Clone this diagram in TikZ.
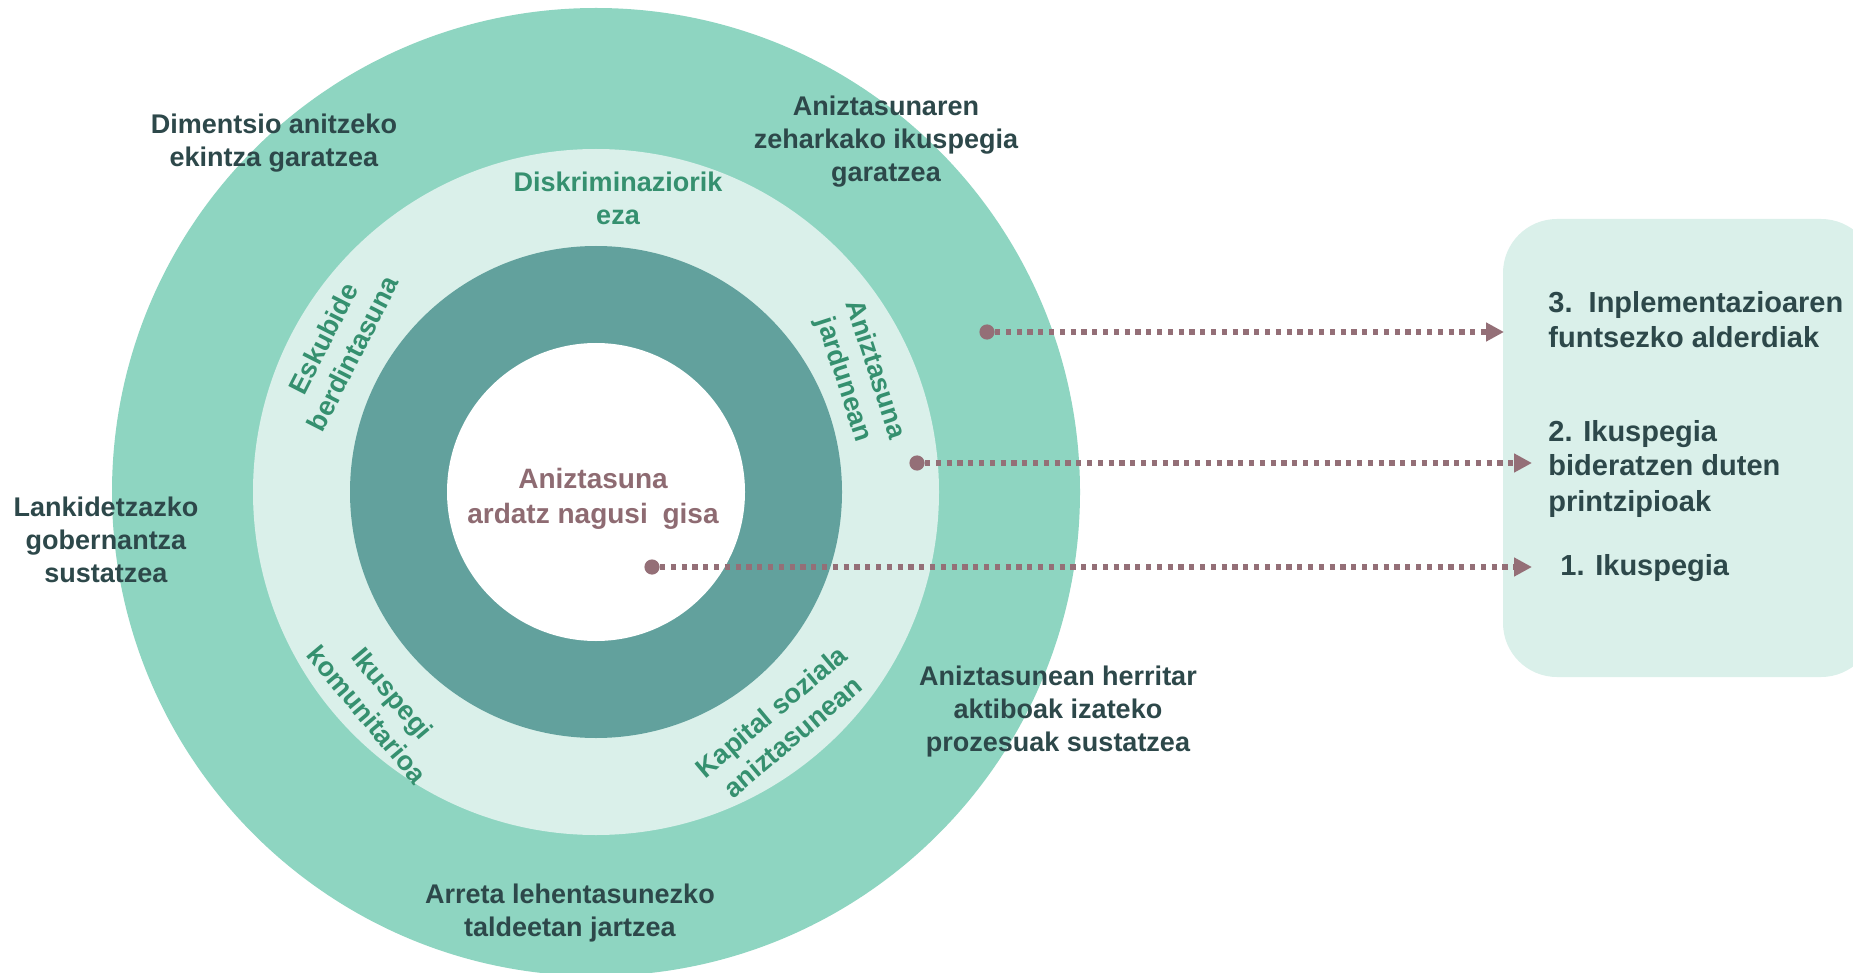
\documentclass[tikz,border=0pt]{standalone}
\usepackage{fontspec}
\setmainfont{Liberation Sans}
\usetikzlibrary{arrows.meta}
\definecolor{outerring}{HTML}{8ED5C1}
\definecolor{lightring}{HTML}{DAF0EA}
\definecolor{darkring}{HTML}{62A19D}
\definecolor{darktxt}{HTML}{2D484A}
\definecolor{greentxt}{HTML}{35906F}
\definecolor{mauve}{HTML}{8E6B72}
\definecolor{arrowcol}{HTML}{946F77}
\begin{document}
\begin{tikzpicture}[x=0.5pt,y=-0.5pt,
  outerlabel/.style={font=\bfseries\fontsize{13.5pt}{16.5pt}\selectfont, text=darktxt, align=center, inner sep=0pt},
  ringlabel/.style={font=\bfseries\fontsize{13.5pt}{16.5pt}\selectfont, text=greentxt, align=center, inner sep=0pt},
  centerlabel/.style={font=\bfseries\fontsize{14pt}{17.5pt}\selectfont, text=mauve, align=center, inner sep=0pt},
  boxlabel/.style={font=\bfseries\fontsize{14.5pt}{17.5pt}\selectfont, text=darktxt, align=left, inner sep=0pt, anchor=west},
  startdot/.style={circle, fill=arrowcol, inner sep=0pt, minimum size=7.6pt},
  dotarrow/.style={draw=arrowcol, line width=2.6pt, dash pattern=on 2.6pt off 2.8pt, -{Triangle[length=9pt,width=9pt,fill=arrowcol]}}
]
\useasboundingbox (0,0) rectangle (1853,973);
\fill[white] (0,0) rectangle (1853,973);
\begin{scope}
  \clip (0,0) rectangle (1853,973);
  \coordinate (c) at (596,492);
  \fill[outerring] (c) circle[radius=242pt];
  \fill[lightring] (c) circle[radius=171.5pt];
  \fill[darkring] (c) circle[radius=123pt];
  \fill[white] (c) circle[radius=74.5pt];
  \fill[lightring, rounded corners=27pt] (1503,219) rectangle (1875,677);
\end{scope}

% outer ring labels
\node[outerlabel] (dim) at (274,143) {Dimentsio anitzeko\\ekintza garatzea};
\node[outerlabel] (zeh) at (886,141.5) {Aniztasunaren\\zeharkako ikuspegia\\garatzea};
\node[outerlabel] (lan) at (106,540) {Lankidetzazko\\gobernantza\\sustatzea};
\node[outerlabel] (her) at (1058,711.5) {Aniztasunean herritar\\aktiboak izateko\\prozesuak sustatzea};
\node[outerlabel] (arr) at (570,913.5) {Arreta lehentasunezko\\taldeetan jartzea};

% light ring labels
\node[ringlabel] (dis) at (618,198) {Diskriminaziorik\\eza};
\node[ringlabel, rotate=63] (esk) at (338,346) {Eskubide\\berdintasuna};
\node[ringlabel, rotate=-72] (jar) at (859,375) {Aniztasuna\\jardunean};
\node[ringlabel, rotate=-50] (iku) at (380,704) {Ikuspegi\\komunitarioa};
\node[ringlabel, rotate=40] (kap) at (782,724) {Kapital soziala\\aniztasunean};

% centre label
\node[centerlabel] (cen) at (593,499) {Aniztasuna\\ardatz nagusi\hspace{0.25em} gisa};

% box labels
\node[boxlabel] (b3) at (1548,320) {3.~~Inplementazioaren\\funtsezko alderdiak};
\node[boxlabel] (b2) at (1548,468.5) {2. Ikuspegia\\bideratzen duten\\printzipioak};
\node[boxlabel] (b1) at (1560,568.5) {1. Ikuspegia};

% arrows
\node[startdot] (d3) at (987,332) {};
\node[startdot] (d2) at (917,463) {};
\node[startdot] (d1) at (652,567) {};
\coordinate (t3) at (1504,332);
\coordinate (t2) at (1532,463);
\coordinate (t1) at (1532,567);
\draw[dotarrow] (d3) -- (t3);
\draw[dotarrow] (d2) -- (t2);
\draw[dotarrow] (d1) -- (t1);
\end{tikzpicture}
\end{document}
